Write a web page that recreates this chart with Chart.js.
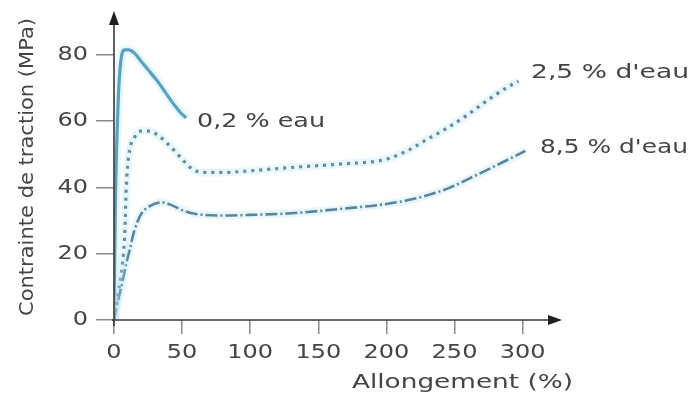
<!DOCTYPE html>
<html>
<head>
<meta charset="utf-8">
<script src="https://cdn.jsdelivr.net/npm/chart.js@4"></script>
<style>
  html, body { margin: 0; padding: 0; background: #fff; }
  #wrap { width: 688px; height: 398px; }
</style>
</head>
<body>
<div id="wrap"><canvas id="c" width="688" height="398"></canvas></div>
<script>
// courbes : [allongement %, contrainte MPa]
const eau02X = [0, 1, 3, 5, 8, 11, 15, 20, 26, 32, 38, 44, 49, 53];
const eau02Y = [0, 35, 65, 78, 81.5, 81.5, 80.5, 78, 75, 72, 68.5, 65, 62.5, 61];

const eau25X = [0, 3, 6, 8, 9, 11, 15, 20, 26, 33, 41, 49, 56, 65, 80, 100, 130, 165, 200, 215, 230, 245, 260, 275, 290, 297];
const eau25Y = [0, 8, 16, 27, 40, 50, 55, 57, 57, 55.5, 52.5, 49, 46, 44.5, 44.5, 45, 46, 47, 48.5, 51, 54.5, 58, 62, 66.5, 70.5, 72];

const eau85X = [0, 3, 6, 9, 12, 15, 20, 27, 35, 43, 51, 60, 80, 100, 130, 166, 200, 225, 247, 265, 285, 302];
const eau85Y = [0, 6, 11, 17, 22, 27, 32, 34.5, 35.5, 34.5, 33, 32, 31.5, 31.7, 32.2, 33.5, 35, 37, 40, 43.5, 47.5, 51];

const xTicks = [0, 50, 100, 150, 200, 250, 300];
const yTicks = [0, 20, 40, 60, 80];

const labels = [
  { text: '0,2 % eau', x: 197, y: 122, w: 128 },
  { text: "2,5 % d'eau", x: 531, y: 73, w: 158 },
  { text: "8,5 % d'eau", x: 540, y: 148, w: 148 }
];

const pts = (xs, ys) => xs.map((x, i) => ({ x: x, y: ys[i] }));

const halo = 'rgba(170, 225, 245, 0.28)';
const textCol = '#444';
const FONT = '"DejaVu Sans", sans-serif';

// texte étiré horizontalement (la figure scannée est élargie)
function drawText(ctx, txt, x, y, size, sx, align) {
  ctx.save();
  ctx.font = size + 'px ' + FONT;
  ctx.fillStyle = textCol;
  ctx.textBaseline = 'middle';
  const w = ctx.measureText(txt).width * sx;
  let x0 = x;
  if (align === 'center') x0 = x - w / 2;
  if (align === 'right') x0 = x - w;
  ctx.translate(x0, y);
  ctx.scale(sx, 1);
  ctx.textAlign = 'left';
  ctx.fillText(txt, 0, 0);
  ctx.restore();
}

function fitText(ctx, txt, x, y, size, width) {
  ctx.save();
  ctx.font = size + 'px ' + FONT;
  const sx = width / ctx.measureText(txt).width;
  ctx.restore();
  drawText(ctx, txt, x, y, size, sx, 'left');
}

const decor = {
  id: 'decor',
  afterDraw(chart) {
    const ctx = chart.ctx;
    const xs = chart.scales.x, ys = chart.scales.y;
    const x0 = xs.getPixelForValue(0), y0 = ys.getPixelForValue(0);
    const xEnd = xs.getPixelForValue(xs.max), yEnd = ys.getPixelForValue(ys.max);

    // axes avec flèches
    ctx.save();
    ctx.strokeStyle = '#3a3a3a';
    ctx.fillStyle = '#1e1e1e';
    ctx.lineWidth = 1.6;
    ctx.beginPath();
    ctx.moveTo(x0, y0 + 6); ctx.lineTo(x0, yEnd + 6);
    ctx.moveTo(x0 - 2, y0); ctx.lineTo(xEnd - 6, y0);
    ctx.stroke();
    ctx.beginPath();
    ctx.moveTo(x0, yEnd - 4); ctx.lineTo(x0 - 5, yEnd + 10); ctx.lineTo(x0 + 5, yEnd + 10);
    ctx.closePath(); ctx.fill();
    ctx.beginPath();
    ctx.moveTo(xEnd + 4, y0); ctx.lineTo(xEnd - 10, y0 - 5); ctx.lineTo(xEnd - 10, y0 + 5);
    ctx.closePath(); ctx.fill();
    ctx.restore();

    // graduations
    yTicks.forEach(v => drawText(ctx, String(v), x0 - 26, ys.getPixelForValue(v), 20, 1.2, 'right'));
    xTicks.forEach(v => drawText(ctx, String(v), xs.getPixelForValue(v), y0 + 33, 20, 1.2, 'center'));

    // titres des axes
    fitText(ctx, 'Allongement (%)', 352, 383, 20, 221);
    ctx.save();
    ctx.translate(28, 316);
    ctx.rotate(-Math.PI / 2);
    fitText(ctx, 'Contrainte de traction (MPa)', 0, 0, 19, 298);
    ctx.restore();

    // étiquettes des courbes
    labels.forEach(l => fitText(ctx, l.text, l.x, l.y, 20, l.w));
  }
};

const curve = { showLine: true, pointRadius: 0, cubicInterpolationMode: 'monotone' };

new Chart(document.getElementById('c'), {
  type: 'scatter',
  data: {
    datasets: [
      { ...curve, data: pts(eau85X, eau85Y), borderColor: halo, borderWidth: 8 },
      { ...curve, data: pts(eau25X, eau25Y), borderColor: halo, borderWidth: 8 },
      { ...curve, data: pts(eau02X, eau02Y), borderColor: halo, borderWidth: 9 },
      { ...curve, label: '8,5 % d\'eau', data: pts(eau85X, eau85Y), borderColor: '#3f6078', borderWidth: 2.6,
        borderDash: [12, 3, 2, 3] },
      { ...curve, label: '2,5 % d\'eau', data: pts(eau25X, eau25Y), borderColor: '#4f6878', borderWidth: 3.2,
        borderDash: [3, 5] },
      { ...curve, label: '0,2 % eau', data: pts(eau02X, eau02Y), borderColor: '#3a88ad', borderWidth: 3.2 }
    ]
  },
  options: {
    responsive: false,
    animation: false,
    layout: { padding: { left: 0, top: 15, right: 130, bottom: 0 } },
    plugins: { legend: { display: false }, tooltip: { enabled: false } },
    scales: {
      x: {
        type: 'linear', min: 0, max: 326,
        afterBuildTicks: s => { s.ticks = xTicks.map(v => ({ value: v })); },
        afterFit: s => { s.height = 78; },
        border: { display: false },
        grid: { drawOnChartArea: false, tickLength: 14, color: '#8a8a8a', lineWidth: 1.5 },
        ticks: { display: false }
      },
      y: {
        type: 'linear', min: 0, max: 92,
        afterBuildTicks: s => { s.ticks = yTicks.map(v => ({ value: v })); },
        afterFit: s => { s.width = 114; },
        border: { display: false },
        grid: { drawOnChartArea: false, tickLength: 18, color: '#8a8a8a', lineWidth: 1.5 },
        ticks: { display: false }
      }
    }
  },
  plugins: [decor]
});
</script>
</body>
</html>
